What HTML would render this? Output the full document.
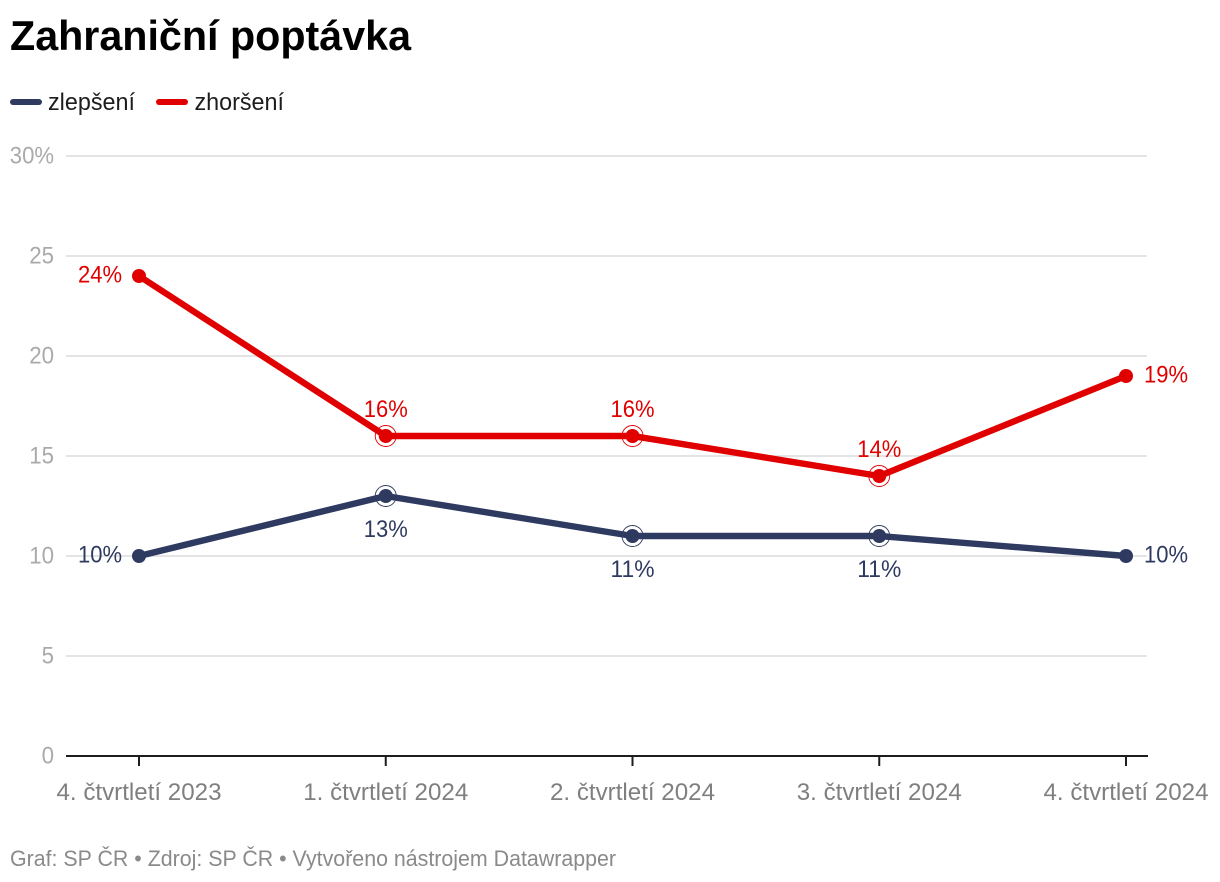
<!DOCTYPE html>
<html lang="cs">
<head>
<meta charset="utf-8">
<title>Zahraniční poptávka</title>
<style>
html,body{margin:0;padding:0;background:#fff;}
svg{display:block;font-family:"Liberation Sans",Arial,sans-serif;}
</style>
</head>
<body>
<svg id="chart" xmlns="http://www.w3.org/2000/svg" width="1220" height="882" viewBox="0 0 1220 882">
  <rect x="0" y="0" width="1220" height="882" fill="#fff"/>
  <text x="10" y="50" font-size="42" font-weight="700" fill="#000" textLength="401" lengthAdjust="spacingAndGlyphs">Zahraniční poptávka</text>
  <g>
    <line x1="13" y1="102" x2="39" y2="102" stroke="#2e3a60" stroke-width="6" stroke-linecap="round"/>
    <text x="48" y="110" font-size="24" fill="#1d1d1d" textLength="87" lengthAdjust="spacingAndGlyphs">zlepšení</text>
    <line x1="159" y1="102" x2="185" y2="102" stroke="#e00000" stroke-width="6" stroke-linecap="round"/>
    <text x="194.5" y="110" font-size="24" fill="#1d1d1d" textLength="89.5" lengthAdjust="spacingAndGlyphs">zhoršení</text>
  </g>
  <g id="grid"></g>
  <g id="xaxis"></g>
  <g id="series"></g>
  <text x="10" y="866" font-size="22" fill="#8a8a8a" textLength="606" lengthAdjust="spacingAndGlyphs">Graf: SP ČR • Zdroj: SP ČR • Vytvořeno nástrojem Datawrapper</text>
</svg>
<script>
const categories = ["4. čtvrtletí 2023", "1. čtvrtletí 2024", "2. čtvrtletí 2024", "3. čtvrtletí 2024", "4. čtvrtletí 2024"];
const zlepseniValues = [10, 13, 11, 11, 10];
const zhorseniValues = [24, 16, 16, 14, 19];
const yTickValues = [0, 5, 10, 15, 20, 25, 30];
const yTickLabels = ["0", "5", "10", "15", "20", "25", "30%"];

const NS = "http://www.w3.org/2000/svg";
const plotLeft = 139, plotRight = 1126, plotBottom = 756, plotTop = 156, yMax = 30;
const xScale = i => plotLeft + (plotRight - plotLeft) * i / (categories.length - 1);
const yScale = v => plotBottom - (plotBottom - plotTop) * v / yMax;

function make(tag, attrs, parent, text) {
  const el = document.createElementNS(NS, tag);
  for (const k in attrs) el.setAttribute(k, attrs[k]);
  if (text !== undefined) el.textContent = text;
  parent.appendChild(el);
  return el;
}

const grid = document.getElementById("grid");
yTickValues.forEach((v, i) => {
  if (v !== 0) {
    const line = make("line", {x1: 66, x2: 1147, y1: yScale(v), y2: yScale(v), stroke: "#e4e4e4", "stroke-width": 2}, grid);
    
    
  }
  const label = make("text", {x: 54, y: yScale(v) + 7.5, "font-size": 24, fill: "#aaaaaa", "text-anchor": "end"}, grid, yTickLabels[i]);
  label.setAttribute('textLength', yTickLabels[i].length * 12.4 + (yTickLabels[i].includes('%') ? 7 : 0));
  label.setAttribute('lengthAdjust', 'spacingAndGlyphs');
  
  
});

const xaxis = document.getElementById("xaxis");
const baseline = make("line", {x1: 66, x2: 1148, y1: plotBottom, y2: plotBottom, stroke: "#1d1d1d", "stroke-width": 2}, xaxis);


categories.forEach((c, i) => {
  const tick = make("line", {x1: xScale(i), x2: xScale(i), y1: plotBottom, y2: plotBottom + 10, stroke: "#1d1d1d", "stroke-width": 2}, xaxis);
  
  
  const label = make("text", {x: xScale(i), y: 800, "font-size": 24, fill: "#7f7f7f", "text-anchor": "middle", textLength: 165, lengthAdjust: "spacingAndGlyphs"}, xaxis, c);
  
  
});

function drawSeries(values, color, name, innerSide) {
  const g = make("g", {}, document.getElementById("series"));
  
  
  const line = make("polyline", {
    points: values.map((v, i) => xScale(i) + "," + yScale(v)).join(" "),
    fill: "none", stroke: color, "stroke-width": 6.4, "stroke-linejoin": "round", "stroke-linecap": "round"
  }, g);
  
  
  values.forEach((v, i) => {
    const cx = xScale(i), cy = yScale(v);
    const last = values.length - 1;
    const inner = i > 0 && i < last;
    if (inner) {
      const ring = make("circle", {cx: cx, cy: cy, r: 10.5, fill: "none", stroke: color, "stroke-width": 0.9}, g);
      
      
    }
    const dot = make("circle", {cx: cx, cy: cy, r: 7, fill: color}, g);
    
    
    let lx = cx, ly = cy + 6.3, anchor = "middle";
    if (i === 0) { lx = cx - 17; anchor = "end"; }
    else if (i === last) { lx = cx + 18; anchor = "start"; }
    else if (innerSide === "above") { ly = cy - 19; }
    else { ly = cy + 41; }
    const label = make("text", {x: lx, y: ly, "font-size": 24, fill: color, "text-anchor": anchor, textLength: 44, lengthAdjust: "spacingAndGlyphs"}, g, v + "%");
    
    
  });
}

drawSeries(zlepseniValues, "#2e3a60", "zlepseni", "below");
drawSeries(zhorseniValues, "#e00000", "zhorseni", "above");
</script>
</body>
</html>
